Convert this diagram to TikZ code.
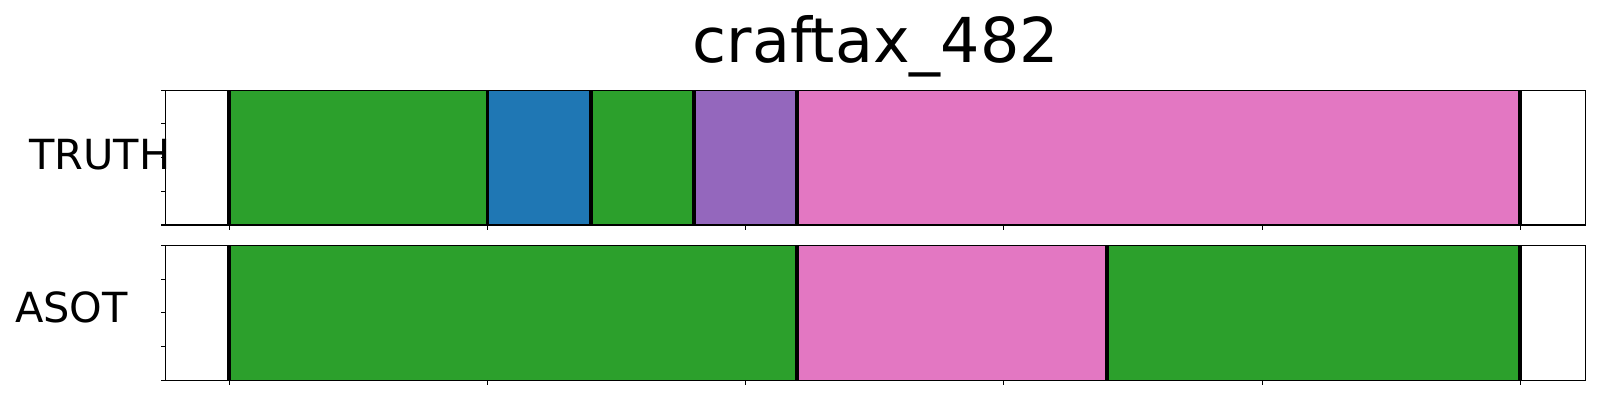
\documentclass[tikz,border=0pt]{standalone}
\usepackage{fontspec}
\setmainfont{DejaVu Sans}
\definecolor{tabgreen}{HTML}{2CA02C}
\definecolor{tabblue}{HTML}{1F77B4}
\definecolor{tabpurple}{HTML}{9467BD}
\definecolor{tabpink}{HTML}{E377C2}
\tikzset{
  cut/.style={line width=1.1pt},
  frame/.style={line width=0.3pt},
  lab/.style={inner sep=0pt, font=\fontsize{11.8}{13}\selectfont}
}
\begin{document}
\begin{tikzpicture}[x=0.01cm, y=-0.01cm]
    \useasboundingbox (0, 0) rectangle (1600, 400);
    % title and row labels
    \node [inner sep=0pt, anchor=base, font=\fontsize{17.6}{20}\selectfont] (title) at (875.7, 62.7) {craftax\_482};
    \node [lab, anchor=base west] (truth) at (28.5, 169.3) {TRUTH};
    \node [lab, anchor=base west] (asot) at (14.3, 322) {ASOT};
    % truth row
    \fill [tabgreen] (229.3, 90.3) rectangle (487.5, 225);
    \fill [tabblue] (487.5, 90.3) rectangle (590.8, 225);
    \fill [tabgreen] (590.8, 90.3) rectangle (694.1, 225);
    \fill [tabpurple] (694.1, 90.3) rectangle (797.3, 225);
    \fill [tabpink] (797.3, 90.3) rectangle (1520.3, 225);
    \draw [cut] (229.3, 90.3) -- (229.3, 225);
    \draw [cut] (487.5, 90.3) -- (487.5, 225);
    \draw [cut] (590.8, 90.3) -- (590.8, 225);
    \draw [cut] (694.1, 90.3) -- (694.1, 225);
    \draw [cut] (797.3, 90.3) -- (797.3, 225);
    \draw [cut] (1520.3, 90.3) -- (1520.3, 225);
    \draw [frame] (165.7, 90.3) rectangle (1585.7, 225);
    \draw [frame] (165.7, 90.3) -- ++(-5, 0) (165.7, 123.9) -- ++(-5, 0) (165.7, 157.6) -- ++(-5, 0)
      (165.7, 191.3) -- ++(-5, 0) (165.7, 225) -- ++(-5, 0);
    \draw [frame] (229.3, 225) -- ++(0, 5) (487.5, 225) -- ++(0, 5) (745.7, 225) -- ++(0, 5)
      (1003.9, 225) -- ++(0, 5) (1262.1, 225) -- ++(0, 5) (1520.3, 225) -- ++(0, 5);
    % asot row
    \fill [tabgreen] (229.3, 245.5) rectangle (797.3, 380.3);
    \fill [tabpink] (797.3, 245.5) rectangle (1107.2, 380.3);
    \fill [tabgreen] (1107.2, 245.5) rectangle (1520.3, 380.3);
    \draw [cut] (229.3, 245.5) -- (229.3, 380.3);
    \draw [cut] (797.3, 245.5) -- (797.3, 380.3);
    \draw [cut] (1107.2, 245.5) -- (1107.2, 380.3);
    \draw [cut] (1520.3, 245.5) -- (1520.3, 380.3);
    \draw [frame] (165.7, 245.5) rectangle (1585.7, 380.3);
    \draw [frame] (165.7, 245.5) -- ++(-5, 0) (165.7, 279.2) -- ++(-5, 0) (165.7, 312.9) -- ++(-5, 0)
      (165.7, 346.6) -- ++(-5, 0) (165.7, 380.3) -- ++(-5, 0);
    \draw [frame] (229.3, 380.3) -- ++(0, 5) (487.5, 380.3) -- ++(0, 5) (745.7, 380.3) -- ++(0, 5)
      (1003.9, 380.3) -- ++(0, 5) (1262.1, 380.3) -- ++(0, 5) (1520.3, 380.3) -- ++(0, 5);
  \end{tikzpicture}
\end{document}
